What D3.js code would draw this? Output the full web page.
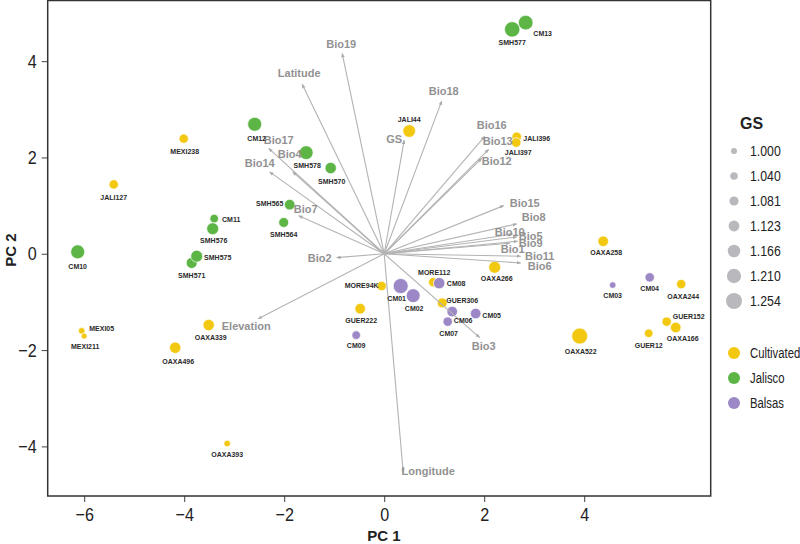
<!DOCTYPE html>
<html>
<head>
<meta charset="utf-8">
<script src="https://cdn.jsdelivr.net/npm/d3@7"></script>
<style>
  body { margin: 0; background: #fff; }
  svg { font-family: "Liberation Sans", Arial, sans-serif; }
</style>
</head>
<body>
<div class="biplot"></div>
<script>
var width = 800,
    height = 544;

// samples (PCA scores)
var sampleNames = ["MEXI238", "JALI127", "JALI44", "JALI396", "JALI397", "OAXA258", "OAXA266", "MORE94K", "MORE112",
  "GUER306", "GUER222", "MEXI05", "MEXI211", "OAXA339", "OAXA496", "OAXA393", "OAXA522", "OAXA244", "GUER152",
  "OAXA166", "GUER12",
  "CM13", "SMH577", "CM12", "SMH578", "SMH570", "SMH565", "SMH564", "CM11", "SMH576", "SMH571", "SMH575", "CM10",
  "CM01", "CM02", "CM08", "CM06", "CM05", "CM07", "CM09", "CM03", "CM04"];
var sampleGroups = ["Cultivated", "Cultivated", "Cultivated", "Cultivated", "Cultivated", "Cultivated", "Cultivated",
  "Cultivated", "Cultivated", "Cultivated", "Cultivated", "Cultivated", "Cultivated", "Cultivated", "Cultivated",
  "Cultivated", "Cultivated", "Cultivated", "Cultivated", "Cultivated", "Cultivated",
  "Jalisco", "Jalisco", "Jalisco", "Jalisco", "Jalisco", "Jalisco", "Jalisco", "Jalisco", "Jalisco", "Jalisco",
  "Jalisco", "Jalisco",
  "Balsas", "Balsas", "Balsas", "Balsas", "Balsas", "Balsas", "Balsas", "Balsas", "Balsas"];
var pc1 = [-4.01, -5.41, 0.50, 2.65, 2.64, 4.38, 2.21, -0.05, 0.98, 1.16, -0.48, -6.05, -6.00, -3.51, -4.18, -3.14,
  3.91, 5.94, 5.65, 5.83, 5.29,
  2.83, 2.56, -2.59, -1.56, -1.07, -1.89, -2.01, -3.40, -3.43, -3.85, -3.75, -6.13,
  0.33, 0.58, 1.10, 1.36, 1.83, 1.27, -0.56, 4.57, 5.31];
var pc2 = [2.39, 1.44, 2.55, 2.43, 2.31, 0.26, -0.28, -0.67, -0.59, -1.02, -1.14, -1.60, -1.71, -1.48, -1.95, -3.94,
  -1.71, -0.63, -1.41, -1.53, -1.65,
  4.80, 4.66, 2.69, 2.10, 1.78, 1.02, 0.65, 0.73, 0.52, -0.19, -0.05, 0.04,
  -0.67, -0.87, -0.61, -1.20, -1.24, -1.41, -1.69, -0.65, -0.49];
var gs = [1.085, 1.085, 1.170, 1.090, 1.090, 1.117, 1.152, 1.086, 1.086, 1.100, 1.117, 1.015, 1.000, 1.137, 1.137,
  1.015, 1.254, 1.086, 1.086, 1.117, 1.066,
  1.220, 1.240, 1.203, 1.200, 1.137, 1.117, 1.100, 1.066, 1.152, 1.127, 1.150, 1.203,
  1.230, 1.200, 1.137, 1.117, 1.117, 1.086, 1.066, 1.015, 1.086];

// environmental loadings
var varNames = ["Bio19", "Latitude", "Bio18", "GS", "Bio16", "Bio13", "Bio12", "Bio17", "Bio4", "Bio14", "Bio7",
  "Bio2", "Elevation", "Longitude", "Bio3", "Bio15", "Bio8", "Bio10", "Bio5", "Bio9", "Bio1", "Bio11", "Bio6"];
var varPC1 = [-0.84, -1.64, 1.15, 0.40, 2.01, 2.09, 1.95, -2.31, -1.83, -2.29, -1.71, -0.95, -2.52, 0.38, 1.91,
  2.39, 2.65, 2.57, 2.65, 2.67, 2.51, 2.73, 2.73];
var varPC2 = [4.16, 3.52, 3.17, 2.36, 2.44, 2.17, 1.98, 2.19, 1.70, 1.70, 0.79, -0.08, -1.35, -4.54, -1.74,
  1.00, 0.62, 0.41, 0.35, 0.26, 0.22, -0.05, -0.19];

var gsBreaks = [1.000, 1.040, 1.081, 1.123, 1.166, 1.210, 1.254];
var groups = ["Cultivated", "Jalisco", "Balsas"];
var xTicks = [-6, -4, -2, 0, 2, 4];
var yTicks = [-4, -2, 0, 2, 4];

var color = d3.scaleOrdinal().domain(groups).range(["#f2c811", "#5cb545", "#9c88c6"]);

// label nudges (pixels, label centre relative to point / arrow tip)
var sampleNudge = {
  CM13: [17, 11], SMH577: [0, 13], CM12: [2, 14], SMH578: [1, 13], SMH570: [1, 13], SMH565: [-20, -1],
  SMH564: [0, 12], CM11: [17, 1], SMH576: [1, 12], SMH575: [21, 1], SMH571: [0, 13], CM10: [0, 15],
  MEXI05: [20, -2], MEXI211: [1, 10], OAXA339: [2, 13], OAXA496: [3, 14], OAXA393: [0, 11], MEXI238: [1, 13],
  JALI127: [0, 13], JALI44: [0, -11], JALI396: [20, 2], JALI397: [2, 10], OAXA258: [3, 11], OAXA266: [2, 11],
  MORE94K: [-20, 0], MORE112: [1, -10], CM08: [17, 0], CM01: [-4, 13], CM02: [1, 13], GUER306: [20, -2],
  CM06: [11, 9], CM05: [16, 2], CM07: [1, 12], GUER222: [1, 12], CM09: [0, 10], OAXA522: [1, 15],
  CM03: [0, 10], CM04: [0, 11], OAXA244: [2, 12], GUER152: [22, -5], OAXA166: [7, 11], GUER12: [0, 12]
};
var varNudge = {
  Bio19: [-1, -9], Latitude: [-3, -11], Bio18: [2, -10], GS: [-10, -1], Bio16: [7, -11], Bio13: [9, -8],
  Bio12: [15, 3], Bio17: [10, -8], Bio4: [-3, -18], Bio14: [-10, -9], Bio7: [7, -7], Bio2: [-17, 1],
  Elevation: [-12, 7], Longitude: [25, -1], Bio3: [4, 9], Bio15: [21, -2], Bio8: [17, -7], Bio10: [-3, -2],
  Bio5: [14, -1], Bio9: [13, 2], Bio1: [3, 6], Bio11: [19, 0], Bio6: [19, 3]
};

var x = d3.scaleLinear().domain([-6.73, 6.53]).range([47.7, 710.7]);
var y = d3.scaleLinear().domain([-5.03, 5.27]).range([496, 0]);
var r = d3.scaleLinear().domain([1.0, 1.254]).range([3, 8]);

var svg = d3.select(".biplot")
  .append("svg")
  .attr("width", width)
  .attr("height", height);

svg.append("defs").append("marker")
  .attr("id", "tip")
  .attr("viewBox", "0 0 10 10")
  .attr("refX", 9)
  .attr("refY", 5)
  .attr("markerWidth", 4)
  .attr("markerHeight", 4)
  .attr("orient", "auto")
  .append("path")
  .attr("d", "M0,1L10,5L0,9Z")
  .attr("fill", "#aaaaaa");

// axes (labels squeezed a little to look like the condensed font of the original)
var xAxis = svg.append("g")
  .attr("transform", "translate(0,496)")
  .call(d3.axisBottom(x).tickValues(xTicks).tickSize(6).tickPadding(6));
var yAxis = svg.append("g")
  .attr("transform", "translate(47.7,0)")
  .call(d3.axisLeft(y).tickValues(yTicks).tickSize(6).tickPadding(5));
[xAxis, yAxis].forEach(function(a) {
  a.select(".domain").remove();
  a.attr("font-family", null).attr("font-size", null);
  a.selectAll("line").attr("stroke", "#444").attr("stroke-width", 1);
  a.selectAll("text")
    .attr("fill", "#222")
    .style("font-size", "19px");
});
xAxis.selectAll("text").attr("transform", "scale(0.85,1)");
yAxis.selectAll("text")
  .attr("x", -11 / 0.85)
  .attr("transform", "scale(0.85,1)");

svg.append("rect")
  .attr("x", 47.7)
  .attr("y", 0.5)
  .attr("width", 663)
  .attr("height", 495.5)
  .attr("fill", "none")
  .attr("stroke", "#333")
  .attr("stroke-width", 1.5);

svg.append("text")
  .attr("x", 384)
  .attr("y", 541)
  .attr("text-anchor", "middle")
  .attr("font-weight", "bold")
  .attr("font-size", "15px")
  .attr("fill", "#222")
  .text("PC 1");

svg.append("text")
  .attr("transform", "translate(16,250) rotate(-90)")
  .attr("text-anchor", "middle")
  .attr("font-weight", "bold")
  .attr("font-size", "15px")
  .attr("fill", "#222")
  .text("PC 2");

// points
var samples = sampleNames.map(function(d, i) {
  return { name: d, group: sampleGroups[i], pc1: pc1[i], pc2: pc2[i], gs: gs[i] };
});

svg.selectAll("circle.pt")
  .data(samples)
  .enter()
  .append("circle")
  .attr("class", "pt")
  .attr("cx", function(d) { return x(d.pc1); })
  .attr("cy", function(d) { return y(d.pc2); })
  .attr("r", function(d) { return r(d.gs); })
  .attr("fill", function(d) { return color(d.group); })
  .attr("stroke", "#fff")
  .attr("stroke-width", 0.7);

// loadings
var vars = varNames.map(function(d, i) {
  return { name: d, pc1: varPC1[i], pc2: varPC2[i] };
});

svg.selectAll("line.vec")
  .data(vars)
  .enter()
  .append("line")
  .attr("class", "vec")
  .attr("x1", x(0))
  .attr("y1", y(0))
  .attr("x2", function(d) { return x(d.pc1); })
  .attr("y2", function(d) { return y(d.pc2); })
  .attr("stroke", "#b3b3b3")
  .attr("stroke-width", 1.1)
  .attr("marker-end", "url(#tip)");

svg.selectAll("text.vec")
  .data(vars)
  .enter()
  .append("text")
  .attr("class", "vec")
  .attr("x", function(d) { return x(d.pc1) + varNudge[d.name][0]; })
  .attr("y", function(d) { return y(d.pc2) + varNudge[d.name][1]; })
  .attr("dy", "0.35em")
  .attr("text-anchor", "middle")
  .attr("font-size", "11px")
  .attr("font-weight", "bold")
  .attr("fill", "#929292")
  .text(function(d) { return d.name; });

svg.selectAll("text.pt")
  .data(samples)
  .enter()
  .append("text")
  .attr("class", "pt")
  .attr("x", function(d) { return x(d.pc1) + sampleNudge[d.name][0]; })
  .attr("y", function(d) { return y(d.pc2) + sampleNudge[d.name][1]; })
  .attr("dy", "0.35em")
  .attr("text-anchor", "middle")
  .attr("font-size", "7px")
  .attr("font-weight", "bold")
  .attr("fill", "#2a2a2a")
  .text(function(d) { return d.name; });

// legend: GS sizes
svg.append("text")
  .attr("x", 740)
  .attr("y", 123)
  .attr("dy", "0.35em")
  .attr("font-size", "16px")
  .attr("font-weight", "bold")
  .attr("fill", "#222")
  .text("GS");

var sizeLegend = svg.selectAll(".size-legend")
  .data(gsBreaks)
  .enter()
  .append("g")
  .attr("class", "size-legend")
  .attr("transform", function(d, i) { return "translate(734," + (151 + i * 25) + ")"; });

sizeLegend.append("circle")
  .attr("r", function(d) { return r(d); })
  .attr("fill", "#b9b9bd");

sizeLegend.append("text")
  .attr("transform", "translate(16,0) scale(0.82,1)")
  .attr("dy", "0.35em")
  .attr("font-size", "15px")
  .attr("fill", "#222")
  .text(function(d) { return d.toFixed(3); });

// legend: groups
var groupLegend = svg.selectAll(".group-legend")
  .data(groups)
  .enter()
  .append("g")
  .attr("class", "group-legend")
  .attr("transform", function(d, i) { return "translate(734," + (353 + i * 25) + ")"; });

groupLegend.append("circle")
  .attr("r", 6)
  .attr("fill", function(d) { return color(d); });

groupLegend.append("text")
  .attr("transform", "translate(16,0) scale(0.78,1)")
  .attr("dy", "0.35em")
  .attr("font-size", "14.5px")
  .attr("fill", "#222")
  .text(function(d) { return d; });
</script>
</body>
</html>
